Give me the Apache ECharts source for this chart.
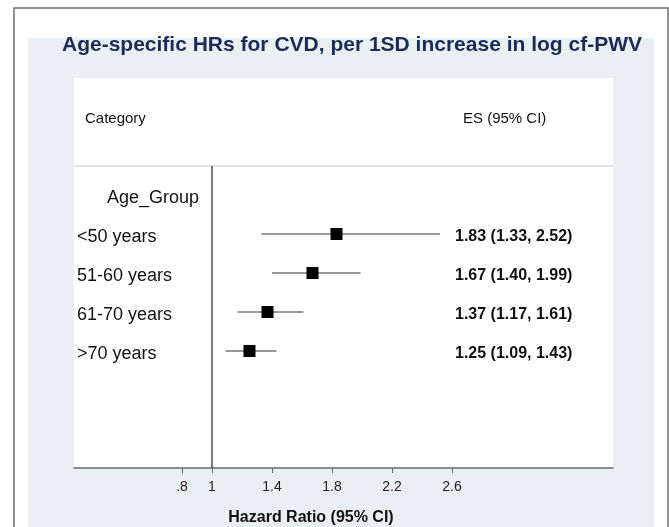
<!DOCTYPE html>
<html><head><meta charset="utf-8">
<script src="https://cdn.jsdelivr.net/npm/echarts@6/dist/echarts.min.js"></script>
<style>html,body{margin:0;padding:0;background:#fff}#c{width:669px;height:527px}</style>
</head><body><div id="c"></div>
<script>
const categories = ['<50 years', '51-60 years', '61-70 years', '>70 years'];
const groupLabel = 'Age_Group';
const es = [1.83, 1.67, 1.37, 1.25];
const lo = [1.33, 1.40, 1.17, 1.09];
const hi = [2.52, 1.99, 1.61, 1.43];
const tickValues = [0.8, 1, 1.4, 1.8, 2.2, 2.6];
const tickLabels = ['.8', '1', '1.4', '1.8', '2.2', '2.6'];
const headers = ['Category', 'ES (95% CI)'];
const titleText = 'Age-specific HRs for CVD, per 1SD increase in log cf-PWV';
const axisTitle = 'Hazard Ratio (95% CI)';

const FONT = "'Liberation Sans', Arial, sans-serif";
const Y_MIN = -4, Y_MAX = 6;
const SEP_Y = -1.744, HEADER_Y = -3, GROUP_Y = -1;
const X_MIN = 0.08, X_MAX = 3.6733;

function txt(x, y, text, font, fill) {
  return {type: 'text', x: x, y: y,
    style: {text: text, font: font, fill: fill || '#111',
      align: 'left', verticalAlign: 'middle', textAlign: 'left', textVerticalAlign: 'middle'}};
}

const chart = echarts.init(document.getElementById('c'));
const option = {
  animation: false,
  backgroundColor: '#fff',
  title: {text: titleText, left: 57, top: 30,
    textStyle: {fontFamily: FONT, fontSize: 21, fontWeight: 'bold', color: '#1b2b55'}},
  graphic: [
    {type: 'rect', shape: {x: 14, y: 8, width: 654, height: 540}, style: {fill: '#fff', stroke: '#707070', lineWidth: 1.5}, z: -100, silent: true},
    {type: 'rect', shape: {x: 28, y: 38, width: 626, height: 500}, style: {fill: '#e8f0f3'}, z: -99, silent: true}
  ],
  grid: {left: 74, right: 56, top: 78, bottom: 59, show: true, backgroundColor: '#fff', borderWidth: 0,
    containLabel: false, outerBoundsMode: 'none'},
  xAxis: {
    type: 'value', min: X_MIN, max: X_MAX,
    axisLine: {show: true, onZero: false, lineStyle: {color: '#6a6a6a', width: 1.5}},
    axisTick: {show: true, customValues: tickValues, length: 5, lineStyle: {color: '#6a6a6a', width: 1}},
    axisLabel: {customValues: tickValues, margin: 12, fontFamily: FONT, fontSize: 14, color: '#222',
      formatter: function (v) { const i = tickValues.indexOf(v); return i >= 0 ? tickLabels[i] : ''; }},
    splitLine: {show: false},
    name: axisTitle, nameLocation: 'middle', nameGap: 42,
    nameTextStyle: {fontFamily: FONT, fontSize: 16, fontWeight: 'bold', color: '#111', padding: [0, 65, 0, 0]}
  },
  yAxis: {type: 'value', min: Y_MIN, max: Y_MAX, inverse: true, show: false},
  series: [
    { // separator and null line
      type: 'custom', coordinateSystem: 'cartesian2d', data: [[1, SEP_Y]], silent: true,
      renderItem: function (params, api) {
        const cs = params.coordSys;
        const sep = api.coord([1, SEP_Y]);
        const bot = api.coord([1, Y_MAX]);
        return {type: 'group', children: [
          {type: 'line', shape: {x1: cs.x, y1: sep[1], x2: cs.x + cs.width, y2: sep[1]}, style: {stroke: '#e2e2e2', lineWidth: 2}},
          {type: 'line', shape: {x1: sep[0], y1: sep[1], x2: bot[0], y2: bot[1]}, style: {stroke: '#333', lineWidth: 1.3}}
        ]};
      }
    },
    { // headers and group label
      type: 'custom', coordinateSystem: 'cartesian2d', data: [[1, HEADER_Y]], silent: true,
      renderItem: function (params, api) {
        const cs = params.coordSys;
        const hy = api.coord([1, HEADER_Y])[1] + 2;
        const gy = api.coord([1, GROUP_Y])[1] + 3;
        return {type: 'group', children: [
          txt(cs.x + 11, hy, headers[0], '15px ' + FONT),
          txt(cs.x + 389, hy, headers[1], '15px ' + FONT),
          txt(cs.x + 33, gy, groupLabel, '18px ' + FONT)
        ]};
      }
    },
    { // CI lines
      type: 'custom', coordinateSystem: 'cartesian2d', silent: true,
      data: categories.map((c, i) => [lo[i], i, hi[i]]),
      encode: {x: 0, y: 1},
      renderItem: function (params, api) {
        const a = api.coord([api.value(0), api.value(1)]);
        const b = api.coord([api.value(2), api.value(1)]);
        return {type: 'line', shape: {x1: a[0], y1: a[1], x2: b[0], y2: b[1]}, style: {stroke: '#333', lineWidth: 1}};
      }
    },
    { // point estimates
      type: 'scatter', symbol: 'rect', symbolSize: 12, silent: true,
      itemStyle: {color: '#000', opacity: 1},
      data: categories.map((c, i) => [es[i], i])
    },
    { // row labels and ES text
      type: 'custom', coordinateSystem: 'cartesian2d', silent: true,
      data: categories.map((c, i) => [es[i], i]),
      encode: {x: 0, y: 1},
      renderItem: function (params, api) {
        const cs = params.coordSys;
        const i = params.dataIndex;
        const y = api.coord([api.value(0), api.value(1)])[1] + 3;
        const s = es[i].toFixed(2) + ' (' + lo[i].toFixed(2) + ', ' + hi[i].toFixed(2) + ')';
        return {type: 'group', children: [
          txt(cs.x + 3, y, categories[i], '18px ' + FONT),
          txt(cs.x + 381, y, s, 'bold 16px ' + FONT)
        ]};
      }
    }
  ]
};
chart.setOption(option);
</script></body></html>
